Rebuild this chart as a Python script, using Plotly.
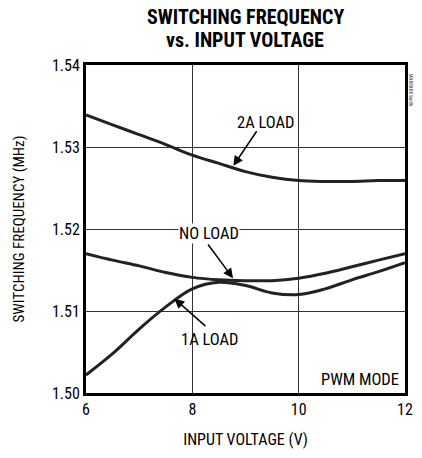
import plotly.graph_objects as go

# Data
v = [6.0, 6.5, 7.0, 7.5, 8.0, 8.5, 9.0, 9.5, 10.0, 10.5, 11.0, 11.5, 12.0]
f_2a = [1.5339, 1.5327, 1.5315, 1.5303, 1.5290, 1.5280, 1.5270, 1.5263, 1.5259, 1.5258, 1.5258, 1.5259, 1.5259]
f_no = [1.5170, 1.5162, 1.5155, 1.5147, 1.5141, 1.5138, 1.5137, 1.5137, 1.5140, 1.5146, 1.5154, 1.5162, 1.5170]
f_1a = [1.5022, 1.5048, 1.5078, 1.5105, 1.5127, 1.5135, 1.5131, 1.5122, 1.5120, 1.5127, 1.5138, 1.5148, 1.5159]

x_ticks = [6, 8, 10, 12]
y_ticks = [1.50, 1.51, 1.52, 1.53, 1.54]

FONT = "Liberation Sans Narrow, Roboto Condensed, Arial Narrow, sans-serif"

fig = go.Figure()
for ys in (f_2a, f_no, f_1a):
    fig.add_trace(go.Scatter(x=v, y=ys, mode="lines",
                             line=dict(color="#222", width=3, shape="spline"),
                             showlegend=False, hoverinfo="skip"))

ann = [
    dict(x=8.771, y=1.5277, ax=9.229, ay=1.5321),
    dict(x=8.765, y=1.5140, ax=8.275, ay=1.5183),
    dict(x=7.664, y=1.5115, ax=8.275, ay=1.5080),
]
for a in ann:
    fig.add_annotation(x=a["x"], y=a["y"], ax=a["ax"], ay=a["ay"], axref="x", ayref="y",
                       xref="x", yref="y", text="", showarrow=True, arrowhead=2,
                       arrowsize=1.3, arrowwidth=1.5, arrowcolor="black")

LBL = dict(size=16.5, family=FONT, color="black")
fig.add_annotation(x=9.376, y=1.5330, text="2A LOAD", showarrow=False, font=LBL)
fig.add_annotation(x=8.306, y=1.5195, text="NO LOAD", showarrow=False, bgcolor="white",
                   borderpad=0, font=LBL)
fig.add_annotation(x=8.325, y=1.5065, text="1A LOAD", showarrow=False, font=LBL)
fig.add_annotation(x=11.92, y=1.5016, text="PWM MODE", showarrow=False, xanchor="right",
                   font=LBL)
fig.add_annotation(x=1.004, y=0.98, xref="paper", yref="paper", text="MAX8XXX toc06",
                   showarrow=False, textangle=90, xanchor="left", yanchor="top",
                   font=dict(size=5, family=FONT, color="#333"))

# Title lines placed in paper coords above plot (plot height 328 px)
fig.add_annotation(x=0.50, y=1 + (65 - 17) / 328, xref="paper", yref="paper",
                   text="<b>SWITCHING FREQUENCY</b>", showarrow=False, yanchor="middle",
                   font=dict(size=20, family=FONT, color="black"))
fig.add_annotation(x=0.497, y=1 + (65 - 40) / 328, xref="paper", yref="paper",
                   text="<b>vs. INPUT VOLTAGE</b>", showarrow=False, yanchor="middle",
                   font=dict(size=20, family=FONT, color="black"))

fig.update_layout(
    width=422, height=458,
    margin=dict(l=86, r=9, t=65, b=65),
    paper_bgcolor="white", plot_bgcolor="white",
    font=dict(family=FONT, color="black", size=14),
    xaxis=dict(range=[6, 12], tickvals=x_ticks, ticktext=[str(t) for t in x_ticks],
               showgrid=True, gridcolor="#333", gridwidth=1, zeroline=False,
               showline=True, linecolor="black", linewidth=3, mirror=True, ticks="",
               title=dict(text="INPUT VOLTAGE (V)", font=dict(size=16, family=FONT), standoff=16),
               tickfont=dict(size=16, family=FONT)),
    yaxis=dict(range=[1.50, 1.54], tickvals=y_ticks, ticktext=[f"{t:.2f}" for t in y_ticks],
               showgrid=True, gridcolor="#333", gridwidth=1, zeroline=False,
               showline=True, linecolor="black", linewidth=3, mirror=True, ticks="",
               title=dict(text="SWITCHING FREQUENCY (MHz)", font=dict(size=15, family=FONT), standoff=24),
               tickfont=dict(size=16, family=FONT)),
)

fig.write_html("out.html", config={"displayModeBar": False},
               post_script="document.body.style.margin='0';document.body.style.padding='0';")
